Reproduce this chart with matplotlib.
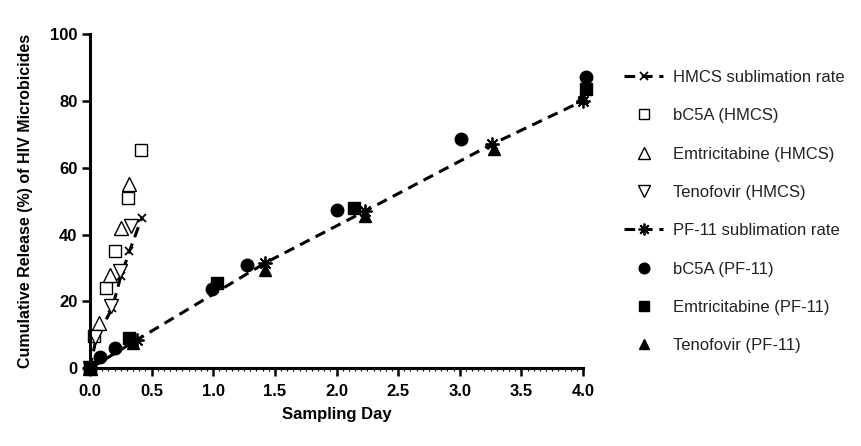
import matplotlib.pyplot as plt
from matplotlib.ticker import MultipleLocator
from matplotlib import rcParams

rcParams['font.family'] = ['Liberation Sans', 'DejaVu Sans']

# HMCS
hmcs_rate_x = [0.0, 0.05, 0.18, 0.25, 0.32, 0.42]
hmcs_rate_y = [0.0, 9.0, 18.0, 27.5, 35.0, 45.0]
bc5a_hmcs_x = [0.0, 0.03, 0.13, 0.20, 0.31, 0.41]
bc5a_hmcs_y = [0.0, 9.75, 24.0, 35.0, 51.0, 65.3]
emtri_hmcs_x = [0.0, 0.07, 0.16, 0.25, 0.32]
emtri_hmcs_y = [0.0, 13.7, 28.0, 42.0, 55.0]
teno_hmcs_x = [0.0, 0.04, 0.17, 0.24, 0.33]
teno_hmcs_y = [0.0, 9.4, 18.75, 29.0, 42.5]

# PF-11
pf_rate_x = [0.0, 0.38, 1.42, 2.23, 3.26, 4.0]
pf_rate_y = [0.0, 8.5, 31.5, 47.0, 67.0, 80.0]
bc5a_pf_x = [0.0, 0.08, 0.20, 0.99, 1.27, 2.0, 3.01, 4.02]
bc5a_pf_y = [0.0, 3.5, 6.0, 23.7, 31.0, 47.5, 68.5, 87.0]
emtri_pf_x = [0.0, 0.32, 1.03, 2.14, 4.02]
emtri_pf_y = [0.0, 9.0, 25.5, 48.0, 83.5]
teno_pf_x = [0.0, 0.35, 1.42, 2.23, 3.28, 3.99]
teno_pf_y = [0.0, 7.5, 29.5, 45.5, 65.5, 81.0]

fig = plt.figure(figsize=(8.62, 4.46), dpi=100)
ax = fig.add_axes([0.1044, 0.174, 0.572, 0.75])

dash = (0, (3.5, 2.2))
kw = dict(clip_on=False, color='black', mec='black')
ax.plot(hmcs_rate_x, hmcs_rate_y, ls=dash, lw=2.2, marker='x', ms=6, mew=1.3,
        label='HMCS sublimation rate', **kw)
ax.plot(bc5a_hmcs_x, bc5a_hmcs_y, ls='none', marker='s', ms=9, mfc='white', mew=1,
        label='bC5A (HMCS)', **kw)
ax.plot(emtri_hmcs_x, emtri_hmcs_y, ls='none', marker='^', ms=10, mfc='white', mew=1,
        label='Emtricitabine (HMCS)', **kw)
ax.plot(teno_hmcs_x, teno_hmcs_y, ls='none', marker='v', ms=10, mfc='white', mew=1,
        label='Tenofovir (HMCS)', **kw)
ax.plot(pf_rate_x, pf_rate_y, ls=dash, lw=2.2, marker=(8, 2, 0), ms=10, mew=1.3,
        label='PF-11 sublimation rate', **kw)
ax.plot(bc5a_pf_x, bc5a_pf_y, ls='none', marker='o', ms=9,
        label='bC5A (PF-11)', **kw)
ax.plot(emtri_pf_x, emtri_pf_y, ls='none', marker='s', ms=9,
        label='Emtricitabine (PF-11)', **kw)
ax.plot(teno_pf_x, teno_pf_y, ls='none', marker='^', ms=9,
        label='Tenofovir (PF-11)', **kw)

ax.set_xlim(0, 4.0)
ax.set_ylim(0, 100)
ax.xaxis.set_major_locator(MultipleLocator(0.5))
ax.xaxis.set_minor_locator(MultipleLocator(0.05))
ax.yaxis.set_major_locator(MultipleLocator(20))
ax.xaxis.set_major_formatter('{x:.1f}')

for s in ['top', 'right']:
    ax.spines[s].set_visible(False)
for s in ['left', 'bottom']:
    ax.spines[s].set_linewidth(2.2)

ax.tick_params(axis='both', which='major', direction='out', length=6, width=1.8,
               labelsize=12, pad=3)
ax.tick_params(axis='x', which='major', pad=5)
ax.tick_params(axis='x', which='minor', direction='out', length=2, width=0.8)
for lab in ax.get_xticklabels() + ax.get_yticklabels():
    lab.set_fontweight('bold')

ax.set_xlabel('Sampling Day', fontsize=12, fontweight='bold', labelpad=6)
ax.set_ylabel('Cumulative Release (%) of HIV Microbicides', fontsize=11.5,
              fontweight='bold', labelpad=12)

leg = fig.legend(loc='upper left', bbox_to_anchor=(0.707, 0.877), frameon=False,
                 fontsize=12, labelspacing=1.40, handlelength=2.3,
                 handletextpad=0.6, markerscale=0.85)
for t in leg.get_texts():
    t.set_color('#222222')

fig.savefig('out.png', dpi=100)
